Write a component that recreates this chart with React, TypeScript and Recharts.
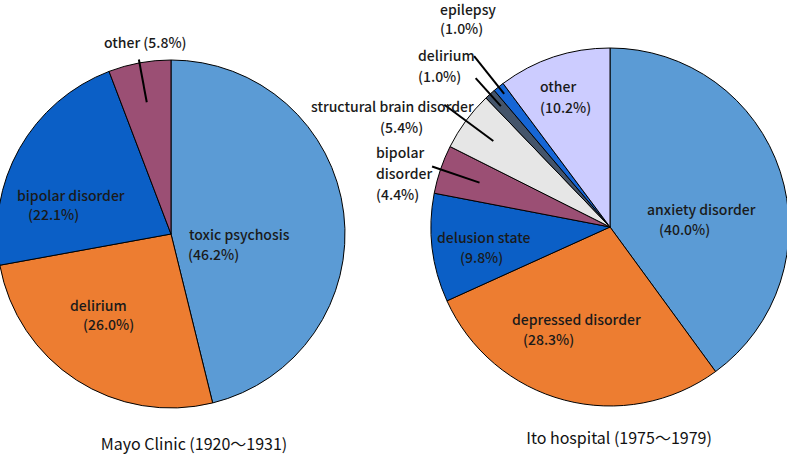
import { PieChart, Pie, Cell } from "recharts";

const mayoNames = ["toxic psychosis", "delirium", "bipolar disorder", "other"];
const mayoValues = [46.2, 26.0, 22.1, 5.8];
const mayoColors = ["#5B9BD5", "#ED7D31", "#0B5FC6", "#9B4F74"];

const itoNames = [
  "anxiety disorder",
  "depressed disorder",
  "delusion state",
  "bipolar disorder",
  "structural brain disorder",
  "delirium",
  "epilepsy",
  "other",
];
const itoValues = [40.0, 28.3, 9.8, 4.4, 5.4, 1.0, 1.0, 10.2];
const itoColors = ["#5B9BD5", "#ED7D31", "#0B5FC6", "#9B4F74", "#E6E6E6", "#44546A", "#1666D6", "#CCCCFF"];

const titles = ["Mayo Clinic (1920〜1931)", "Ito hospital (1975〜1979)"];

const mayoData = mayoNames.map((name, i) => ({ name, value: mayoValues[i] }));
const itoData = itoNames.map((name, i) => ({ name, value: itoValues[i] }));

const pct = (v: number) => `(${v.toFixed(1)}%)`;

// label placement: text lines [text, x, y] and optional leader radius factors
type LabelSpot = { lines: [string, number, number][]; leader?: [number, number] };

const mayoSpots: LabelSpot[] = [
  { lines: [["toxic psychosis", 189, 234], [pct(mayoValues[0]), 188, 254]] },
  { lines: [["delirium", 70, 305], [pct(mayoValues[1]), 83, 324]] },
  { lines: [["bipolar disorder", 17, 195], [pct(mayoValues[2]), 28, 214]] },
  { lines: [["other " + pct(mayoValues[3]), 104, 42]], leader: [0.77, 1.02] },
];

const itoSpots: LabelSpot[] = [
  { lines: [["anxiety disorder", 647, 209], [pct(itoValues[0]), 659, 229]] },
  { lines: [["depressed disorder", 512, 319], [pct(itoValues[1]), 523, 339]] },
  { lines: [["delusion state", 437, 237], [pct(itoValues[2]), 460, 257]] },
  {
    lines: [["bipolar", 376, 152], ["disorder", 376, 173], [pct(itoValues[3]), 376, 194]],
    leader: [0.77, 1.05],
  },
  { lines: [["structural brain disorder", 311, 106], [pct(itoValues[4]), 380, 127]], leader: [0.81, 1.15] },
  { lines: [["delirium", 418, 55], [pct(itoValues[5]), 418, 76]], leader: [0.91, 1.12] },
  { lines: [["epilepsy", 440, 9], [pct(itoValues[6]), 440, 28]], leader: [0.95, 1.22] },
  { lines: [["other", 540, 86], [pct(itoValues[7]), 540, 107]] },
];

const RAD = Math.PI / 180;
const FONT = "'Noto Sans CJK JP', 'Noto Sans', sans-serif";

function makeLabel(spots: LabelSpot[]) {
  return (props: any) => {
    const { cx, cy, midAngle, outerRadius, index } = props;
    const spot = spots[index];
    let line = null;
    if (spot.leader) {
      const [r1, r2] = spot.leader;
      const cos = Math.cos(-midAngle * RAD);
      const sin = Math.sin(-midAngle * RAD);
      line = (
        <line
          x1={cx + outerRadius * r1 * cos}
          y1={cy + outerRadius * r1 * sin}
          x2={cx + outerRadius * r2 * cos}
          y2={cy + outerRadius * r2 * sin}
          stroke="#000"
          strokeWidth={2}
        />
      );
    }
    return (
      <g key={`lbl-${index}`}>
        {line}
        {spot.lines.map(([t, x, y], j) => (
          <text
            key={j}
            x={x}
            y={y}
            dominantBaseline="central"
            fontFamily={FONT}
            fontSize={14}
            fontWeight={500}
            fill="#1a1a1a"
          >
            {t}
          </text>
        ))}
      </g>
    );
  };
}

const titleStyle = {
  position: "absolute" as const,
  transform: "translate(-50%, -50%)",
  fontFamily: FONT,
  fontSize: 16,
  whiteSpace: "nowrap" as const,
  color: "#111",
};

export default function App() {
  return (
    <div style={{ position: "absolute", left: 0, top: 0, width: 787, height: 456, background: "#fff" }}>
      <PieChart width={787} height={456} margin={{ top: 0, right: 0, bottom: 0, left: 0 }}>
        <Pie
          data={mayoData}
          dataKey="value"
          cx={171}
          cy={234}
          outerRadius={174}
          startAngle={90}
          endAngle={-270}
          stroke="#000"
          strokeWidth={1}
          label={makeLabel(mayoSpots)}
          labelLine={false}
          isAnimationActive={false}
        >
          {mayoData.map((d, i) => (
            <Cell key={`m-${d.name}`} fill={mayoColors[i]} />
          ))}
        </Pie>
        <Pie
          data={itoData}
          dataKey="value"
          cx={610}
          cy={227}
          outerRadius={179}
          startAngle={90}
          endAngle={-270}
          stroke="#000"
          strokeWidth={1}
          label={makeLabel(itoSpots)}
          labelLine={false}
          isAnimationActive={false}
        >
          {itoData.map((d, i) => (
            <Cell key={`i-${d.name}`} fill={itoColors[i]} />
          ))}
        </Pie>
      </PieChart>
      <div style={{ ...titleStyle, left: 194, top: 443 }}>{titles[0]}</div>
      <div style={{ ...titleStyle, left: 619, top: 437 }}>{titles[1]}</div>
    </div>
  );
}
